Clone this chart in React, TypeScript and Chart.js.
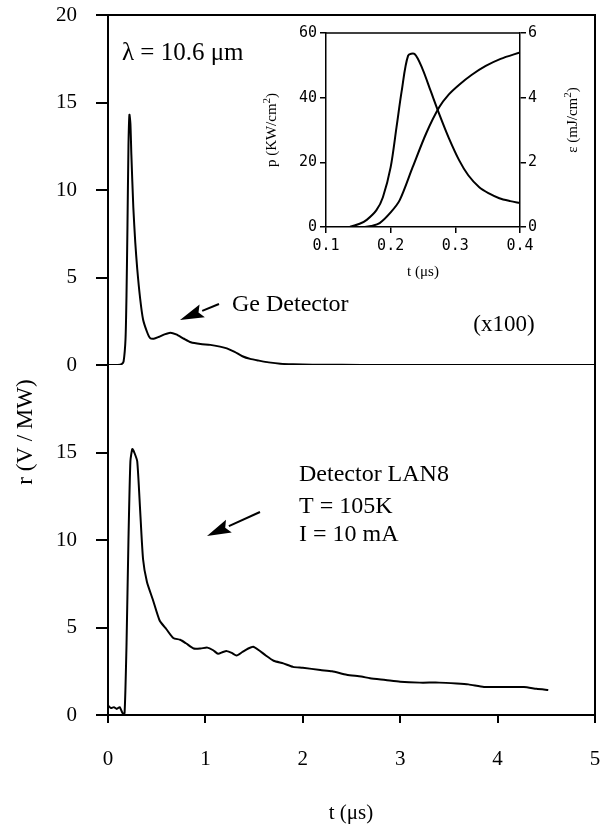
import React, { useEffect, useRef } from "react";
import { Chart, registerables } from "chart.js";

Chart.register(...registerables);

// ---------------- main panel data ----------------
const geTime = [0, 0.05, 0.1, 0.14, 0.16, 0.18, 0.19, 0.2, 0.21, 0.22, 0.23, 0.24, 0.26, 0.28, 0.3, 0.33, 0.36, 0.4, 0.43, 0.47, 0.52, 0.58, 0.64, 0.7, 0.78, 0.85, 0.95, 1.05, 1.15, 1.22, 1.3, 1.38, 1.46, 1.55, 1.65, 1.77, 1.9, 2.1, 2.4, 2.8, 3.2, 3.6, 4.0, 4.5, 5.0];
const geSignal = [0, 0, 0, 0.05, 0.2, 1.5, 4, 8, 12.5, 14.3, 13.8, 12, 9, 7, 5.5, 3.8, 2.6, 1.9, 1.55, 1.5, 1.6, 1.75, 1.85, 1.75, 1.5, 1.3, 1.2, 1.15, 1.05, 0.95, 0.75, 0.5, 0.35, 0.25, 0.15, 0.07, 0.04, 0.02, 0.01, 0, 0, 0, 0, 0, 0];

const lanTime = [0, 0.03, 0.06, 0.09, 0.12, 0.15, 0.17, 0.19, 0.21, 0.23, 0.25, 0.27, 0.3, 0.33, 0.36, 0.4, 0.46, 0.53, 0.6, 0.67, 0.74, 0.8, 0.88, 0.95, 1.02, 1.08, 1.13, 1.18, 1.22, 1.27, 1.32, 1.38, 1.44, 1.49, 1.55, 1.62, 1.7, 1.8, 1.9, 2.0, 2.18, 2.3, 2.45, 2.6, 2.69, 2.85, 3.0, 3.2, 3.4, 3.58, 3.7, 3.86, 4.0, 4.27, 4.4, 4.52];
const lanSignal = [0.55, 0.4, 0.45, 0.35, 0.45, 0.1, 0.1, 4, 10, 14.5, 15.2, 15.0, 14.5, 11.7, 8.9, 7.6, 6.6, 5.4, 4.9, 4.4, 4.3, 4.1, 3.8, 3.8, 3.85, 3.7, 3.5, 3.6, 3.65, 3.55, 3.4, 3.6, 3.8, 3.9, 3.7, 3.4, 3.1, 2.95, 2.75, 2.7, 2.57, 2.5, 2.3, 2.2, 2.1, 2.0, 1.9, 1.85, 1.85, 1.8, 1.75, 1.6, 1.6, 1.6, 1.5, 1.43];

const mainXTicks = [0, 1, 2, 3, 4, 5];
const topYTicks = [0, 5, 10, 15, 20];
const bottomYTicks = [0, 5, 10, 15, 20];

// ---------------- inset data ----------------
const powerTime = [0.1, 0.12, 0.137, 0.152, 0.163, 0.178, 0.188, 0.2, 0.209, 0.217, 0.227, 0.237, 0.249, 0.262, 0.275, 0.29, 0.306, 0.32, 0.337, 0.352, 0.368, 0.385, 0.4];
const powerValue = [0, 0, 0.1, 1.0, 2.2, 5.2, 9.2, 18.5, 30.8, 42, 53, 53.5, 49, 42, 35, 27.5, 20.6, 16, 12.3, 10.4, 8.9, 8.0, 7.4];
const energyTime = [0.1, 0.14, 0.16, 0.17, 0.183, 0.2, 0.214, 0.234, 0.255, 0.275, 0.29, 0.306, 0.325, 0.347, 0.37, 0.4];
const energyValue = [0, 0, 0, 0.03, 0.12, 0.45, 0.83, 1.85, 2.9, 3.7, 4.1, 4.4, 4.7, 4.98, 5.2, 5.4];

const insetXTicks = [0.1, 0.2, 0.3, 0.4];
const insetPTicks = [0, 20, 40, 60];
const insetETicks = [0, 2, 4, 6];

const SERIF = "'Liberation Serif', 'Times New Roman', serif";
const MONO = "'DejaVu Sans Mono', monospace";

type Part = { text: string; sup?: boolean };

function drawParts(ctx: CanvasRenderingContext2D, parts: Part[], size: number, cx: number, cy: number, rotate: boolean) {
  ctx.save();
  ctx.translate(cx, cy);
  if (rotate) ctx.rotate(-Math.PI / 2);
  ctx.fillStyle = "#000";
  ctx.textBaseline = "middle";
  ctx.textAlign = "left";
  const supSize = Math.round(size * 0.7);
  let total = 0;
  const widths = parts.map((p) => {
    ctx.font = `${p.sup ? supSize : size}px ${SERIF}`;
    const w = ctx.measureText(p.text).width;
    total += w;
    return w;
  });
  let x = -total / 2;
  parts.forEach((p, i) => {
    ctx.font = `${p.sup ? supSize : size}px ${SERIF}`;
    ctx.fillText(p.text, x, p.sup ? -size * 0.35 : 0);
    x += widths[i];
  });
  ctx.restore();
}

function drawArrow(ctx: CanvasRenderingContext2D, x1: number, y1: number, x2: number, y2: number) {
  const ang = Math.atan2(y2 - y1, x2 - x1);
  const hl = 24;
  const hw = 7;
  const bx = x2 - hl * Math.cos(ang);
  const by = y2 - hl * Math.sin(ang);
  ctx.save();
  ctx.strokeStyle = "#000";
  ctx.fillStyle = "#000";
  ctx.lineWidth = 2;
  ctx.beginPath();
  ctx.moveTo(x1, y1);
  ctx.lineTo(bx, by);
  ctx.stroke();
  ctx.beginPath();
  ctx.moveTo(x2, y2);
  ctx.lineTo(bx + hw * Math.sin(ang), by - hw * Math.cos(ang));
  ctx.lineTo(bx + 4 * Math.cos(ang), by + 4 * Math.sin(ang));
  ctx.lineTo(bx - hw * Math.sin(ang), by + hw * Math.cos(ang));
  ctx.closePath();
  ctx.fill();
  ctx.restore();
}

const mainDecor = {
  id: "mainDecor",
  afterDraw(chart: any) {
    const ctx: CanvasRenderingContext2D = chart.ctx;
    const a = chart.chartArea;
    ctx.save();
    ctx.strokeStyle = "#000";
    ctx.lineWidth = 2;
    ctx.beginPath();
    ctx.moveTo(a.left, a.top);
    ctx.lineTo(a.right, a.top);
    ctx.lineTo(a.right, a.bottom);
    ctx.stroke();
    ctx.fillStyle = "#000";
    ctx.textBaseline = "middle";
    ctx.textAlign = "left";
    ctx.font = `25px ${SERIF}`;
    ctx.fillText("λ = 10.6 μm", 122, 53);
    ctx.font = `24px ${SERIF}`;
    ctx.fillText("Ge Detector", 232, 305);
    ctx.fillText("Detector LAN8", 299, 475);
    ctx.fillText("T = 105K", 299, 507);
    ctx.fillText("I = 10 mA", 299, 535);
    ctx.textAlign = "center";
    ctx.font = `23px ${SERIF}`;
    ctx.fillText("(x100)", 504, 325);
    ctx.restore();
    drawArrow(ctx, 219, 304, 180, 320);
    drawArrow(ctx, 260, 512, 207, 536);
    drawParts(ctx, [{ text: "t (μs)" }], 21, 351, 813, false);
    drawParts(ctx, [{ text: "r (V / MW)" }], 23, 26, 432, true);
  },
};

const insetDecor = {
  id: "insetDecor",
  afterDraw(chart: any) {
    const ctx: CanvasRenderingContext2D = chart.ctx;
    const a = chart.chartArea;
    ctx.save();
    ctx.strokeStyle = "#000";
    ctx.lineWidth = 1.5;
    ctx.beginPath();
    ctx.moveTo(a.left, a.top);
    ctx.lineTo(a.right, a.top);
    ctx.stroke();
    ctx.restore();
    drawParts(ctx, [{ text: "t (μs)" }], 15, 183, 252, false);
    drawParts(ctx, [{ text: "p (KW/cm" }, { text: "2", sup: true }, { text: ")" }], 15, 32, 110, true);
    drawParts(ctx, [{ text: "ε (mJ/cm" }, { text: "2", sup: true }, { text: ")" }], 15, 333, 100, true);
  },
};

function axisStyle(tickLength: number, width: number) {
  return {
    grid: { display: true, drawOnChartArea: false, drawTicks: true, tickLength, color: "#000", lineWidth: width },
    border: { display: true, color: "#000", width },
  };
}

function fixY(width: number) {
  return (s: any) => {
    s.width = width;
    s.paddingTop = 0;
    s.paddingBottom = 0;
  };
}

function fixX(height: number) {
  return (s: any) => {
    s.height = height;
    s.paddingLeft = 0;
    s.paddingRight = 0;
  };
}

export default function App() {
  const mainRef = useRef<HTMLCanvasElement>(null);
  const insetRef = useRef<HTMLCanvasElement>(null);

  useEffect(() => {
    const main = new Chart(mainRef.current!, {
      type: "line",
      data: {
        datasets: [
          {
            label: "Ge Detector (x100)",
            data: geTime.map((t, i) => ({ x: t, y: geSignal[i] })),
            yAxisID: "yTop",
            borderColor: "#000",
            borderWidth: 2,
            pointRadius: 0,
            tension: 0.2,
          },
          {
            label: "Detector LAN8",
            data: lanTime.map((t, i) => ({ x: t, y: lanSignal[i] })),
            yAxisID: "yBottom",
            borderColor: "#000",
            borderWidth: 2,
            pointRadius: 0,
            tension: 0.2,
          },
        ],
      },
      options: {
        responsive: false,
        animation: false,
        events: [],
        layout: { padding: { left: 0, right: 20, top: 15, bottom: 0 } },
        plugins: { legend: { display: false }, tooltip: { enabled: false } },
        scales: {
          x: {
            type: "linear",
            min: 0,
            max: 5,
            afterBuildTicks: (s: any) => { s.ticks = mainXTicks.map((v) => ({ value: v })); },
            afterFit: fixX(113),
            ticks: { color: "#000", font: { family: SERIF, size: 21 }, padding: 24, maxRotation: 0, autoSkip: false },
            ...axisStyle(8, 2),
          },
          yBottom: {
            type: "linear",
            position: "left",
            stack: "r",
            stackWeight: 1,
            min: 0,
            max: 20,
            afterBuildTicks: (s: any) => { s.ticks = bottomYTicks.map((v) => ({ value: v })); },
            afterFit: fixY(108),
            ticks: {
              color: "#000",
              font: { family: SERIF, size: 21 },
              padding: 19,
              autoSkip: false,
              callback: (v: any) => (v === 20 ? "" : String(v)),
            },
            ...axisStyle(12, 2),
          },
          yTop: {
            type: "linear",
            position: "left",
            stack: "r",
            stackWeight: 1,
            min: 0,
            max: 20,
            afterBuildTicks: (s: any) => { s.ticks = topYTicks.map((v) => ({ value: v })); },
            afterFit: fixY(108),
            ticks: { color: "#000", font: { family: SERIF, size: 21 }, padding: 19, autoSkip: false },
            ...axisStyle(12, 2),
          },
        },
      },
      plugins: [mainDecor],
    } as any);

    const inset = new Chart(insetRef.current!, {
      type: "line",
      data: {
        datasets: [
          {
            label: "p",
            data: powerTime.map((t, i) => ({ x: t, y: powerValue[i] })),
            yAxisID: "yP",
            borderColor: "#000",
            borderWidth: 2,
            pointRadius: 0,
            tension: 0.3,
          },
          {
            label: "ε",
            data: energyTime.map((t, i) => ({ x: t, y: energyValue[i] })),
            yAxisID: "yE",
            borderColor: "#000",
            borderWidth: 2,
            pointRadius: 0,
            tension: 0.3,
          },
        ],
      },
      options: {
        responsive: false,
        animation: false,
        events: [],
        layout: { padding: { left: 0, right: 0, top: 13, bottom: 0 } },
        plugins: { legend: { display: false }, tooltip: { enabled: false } },
        scales: {
          x: {
            type: "linear",
            min: 0.1,
            max: 0.4,
            afterBuildTicks: (s: any) => { s.ticks = insetXTicks.map((v) => ({ value: v })); },
            afterFit: fixX(63),
            ticks: { color: "#000", font: { family: MONO, size: 15 }, padding: 4, maxRotation: 0, autoSkip: false, callback: (v: any) => Number(v).toFixed(1) },
            ...axisStyle(6, 1.5),
          },
          yP: {
            type: "linear",
            position: "left",
            min: 0,
            max: 60,
            afterBuildTicks: (s: any) => { s.ticks = insetPTicks.map((v) => ({ value: v })); },
            afterFit: fixY(86),
            ticks: { color: "#000", font: { family: MONO, size: 15 }, padding: 3, autoSkip: false },
            ...axisStyle(6, 1.5),
          },
          yE: {
            type: "linear",
            position: "right",
            min: 0,
            max: 6,
            afterBuildTicks: (s: any) => { s.ticks = insetETicks.map((v) => ({ value: v })); },
            afterFit: fixY(80),
            ticks: { color: "#000", font: { family: MONO, size: 15 }, padding: 2, autoSkip: false },
            ...axisStyle(6, 1.5),
          },
        },
      },
      plugins: [insetDecor],
    } as any);

    return () => {
      main.destroy();
      inset.destroy();
    };
  }, []);

  return (
    <div style={{ position: "absolute", left: 0, top: 0, width: 615, height: 828, background: "#fff" }}>
      <canvas ref={mainRef} width={615} height={828} style={{ position: "absolute", left: 0, top: 0 }} />
      <canvas ref={insetRef} width={360} height={270} style={{ position: "absolute", left: 240, top: 20 }} />
    </div>
  );
}
